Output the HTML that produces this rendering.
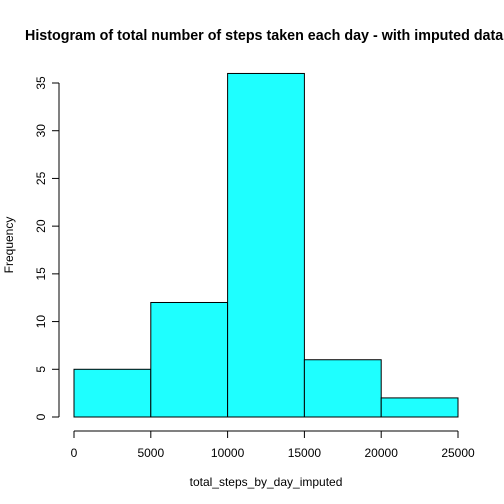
<!DOCTYPE html>
<html><head><meta charset="utf-8"><style>body{margin:0;background:#fff;overflow:hidden}svg{display:block}text{font-family:"Liberation Sans",Arial,sans-serif}</style></head>
<body>
<svg id="c" width="504" height="504"></svg>
<script>
const breaks=[0,5000,10000,15000,20000,25000];
const counts=[5,12,36,6,2];
const xTicks=[0,5000,10000,15000,20000,25000];
const yTicks=[0,5,10,15,20,25,30,35];
const NS="http://www.w3.org/2000/svg";
const svg=document.getElementById('c');
const X=v=>74+v*(458-74)/25000;
const Y=v=>417-v*(417-83)/35;
function el(t,a,p){const e=document.createElementNS(NS,t);for(const k in a)e.setAttribute(k,a[k]);(p||svg).appendChild(e);return e;}
const title=el('text',{x:25,y:40,'font-size':14.3,'font-weight':'bold'});


title.textContent='Histogram of total number of steps taken each day - with imputed data';
const bars=el('g',{});


counts.forEach((c,i)=>{const r=el('rect',{x:X(breaks[i]),y:Y(c),width:X(breaks[i+1])-X(breaks[i]),height:Y(0)-Y(c),fill:'#1effff',stroke:'#000','stroke-width':1},bars);

});
const xa=el('g',{stroke:'#000','stroke-width':1});


el('line',{x1:X(0),x2:X(25000),y1:431,y2:431},xa);
xTicks.forEach(t=>{el('line',{x1:X(t),x2:X(t),y1:431,y2:438},xa);
const tx=el('text',{x:X(t),y:457,'font-size':12,'text-anchor':'middle',stroke:'none'},xa);


tx.textContent=t;});
const ya=el('g',{stroke:'#000','stroke-width':1});


el('line',{x1:59,x2:59,y1:Y(0),y2:Y(35)},ya);
yTicks.forEach(t=>{el('line',{x1:52,x2:59,y1:Y(t),y2:Y(t)},ya);
const tx=el('text',{x:0,y:0,'font-size':12,'text-anchor':'middle',stroke:'none',transform:`translate(45,${Y(t)}) rotate(-90)`},ya);


tx.textContent=t;});
const xt=el('text',{x:266,y:486,'font-size':12,'text-anchor':'middle'});


xt.textContent='total_steps_by_day_imputed';
const yt=el('text',{x:0,y:0,'font-size':12,'text-anchor':'middle',transform:'translate(13,245) rotate(-90)'});


yt.textContent='Frequency';
</script>
</body></html>
